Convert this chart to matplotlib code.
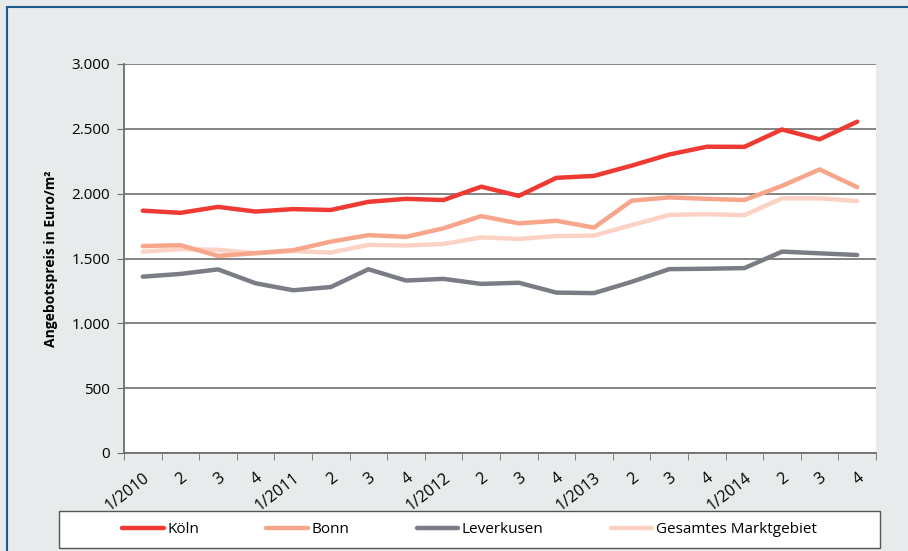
"""
Angebotspreise Euro/m² by quarter, 2010-2014 (Köln, Bonn, Leverkusen, Gesamtes Marktgebiet).
Writes out.png.
"""

import numpy as np
import matplotlib
matplotlib.use("Agg")
import matplotlib.pyplot as plt
from matplotlib.patches import Rectangle

quarters = ["1/2010", "2", "3", "4",
            "1/2011", "2", "3", "4",
            "1/2012", "2", "3", "4",
            "1/2013", "2", "3", "4",
            "1/2014", "2", "3", "4"]

koeln      = [1869, 1852, 1898, 1862, 1881, 1874, 1937, 1960, 1951, 2054,
              1983, 2122, 2137, 2216, 2302, 2362, 2361, 2495, 2419, 2555]
bonn       = [1596, 1603, 1520, 1541, 1564, 1630, 1680, 1667, 1733, 1827,
              1771, 1791, 1738, 1946, 1971, 1960, 1951, 2060, 2187, 2050]
leverkusen = [1360, 1381, 1416, 1309, 1255, 1280, 1417, 1330, 1343, 1304,
              1313, 1237, 1233, 1320, 1418, 1421, 1426, 1553, 1540, 1527]
gesamt     = [1553, 1572, 1567, 1541, 1557, 1546, 1605, 1600, 1612, 1663,
              1651, 1673, 1677, 1757, 1836, 1842, 1834, 1964, 1964, 1943]

series = [
    ("Köln", koeln, "#ee3a33"),
    ("Bonn", bonn, "#f7a68b"),
    ("Leverkusen", leverkusen, "#7b7d86"),
    ("Gesamtes Marktgebiet", gesamt, "#fcd2c4"),
]

y_ticks  = [0, 500, 1000, 1500, 2000, 2500, 3000]
y_labels = ["0", "500", "1.000", "1.500", "2.000", "2.500", "3.000"]

BG = "#e7ebec"
plt.rcParams["font.family"] = ["Open Sans", "DejaVu Sans"]

fig = plt.figure(figsize=(9.08, 5.51), dpi=100, facecolor=BG)

# blue frame (top/left edges visible, rest runs off the image)
fig.patches.append(Rectangle((6.5 / 908, -0.1), 1.2, 1 - 6.5 / 551 + 0.1,
                             transform=fig.transFigure, fill=False,
                             edgecolor="#1d5b8f", linewidth=1.5))
# legend box
fig.patches.append(Rectangle((59 / 908, 3 / 551), 821 / 908, 37 / 551,
                             transform=fig.transFigure, facecolor="white",
                             edgecolor="#555555", linewidth=1.0))

ax = fig.add_axes([124 / 908, 98 / 551, 752 / 908, 389 / 551])
ax.set_facecolor("white")

x = np.arange(len(quarters))
# draw back to front so Köln sits on top
for name, vals, color in reversed(series):
    ax.plot(x, vals, color=color, linewidth=3.2, solid_capstyle="round",
            label=name)

ax.set_xlim(-0.5, len(quarters) - 0.5)
ax.set_ylim(0, 3000)
ax.set_yticks(y_ticks, y_labels, fontsize=11)
ax.yaxis.grid(True, color="#7a7a7a", linewidth=1.3)
ax.set_axisbelow(True)

ax.set_xticks(x, quarters, fontsize=11.5, rotation=38, ha="right",
              rotation_mode="anchor")
ax.set_xticks(np.arange(len(quarters) + 1) - 0.5, minor=True)
ax.tick_params(axis="x", which="major", length=0, pad=12)
ax.tick_params(axis="x", which="minor", length=5, color="#6e6e6e")
ax.tick_params(axis="y", length=5, color="#6e6e6e", pad=5)

for side in ("top", "right"):
    ax.spines[side].set_visible(False)
ax.spines["left"].set_color("#6e6e6e")
ax.spines["bottom"].set_color("#6e6e6e")
ax.spines["left"].set_linewidth(1.3)
ax.spines["bottom"].set_linewidth(1.3)

ax.set_ylabel("Angebotspreis in Euro/m²", fontsize=10, fontweight="bold",
              labelpad=10)

handles, labels = ax.get_legend_handles_labels()
handles, labels = handles[::-1], labels[::-1]
leg = fig.legend(handles, labels, loc="center", ncol=4,
                 bbox_to_anchor=(469.5 / 908, 21.5 / 551),
                 fontsize=11, frameon=False,
                 handlelength=2.7, handletextpad=0.25, columnspacing=4.4,
                 borderaxespad=0)

fig.savefig("out.png", dpi=100, facecolor=BG)
